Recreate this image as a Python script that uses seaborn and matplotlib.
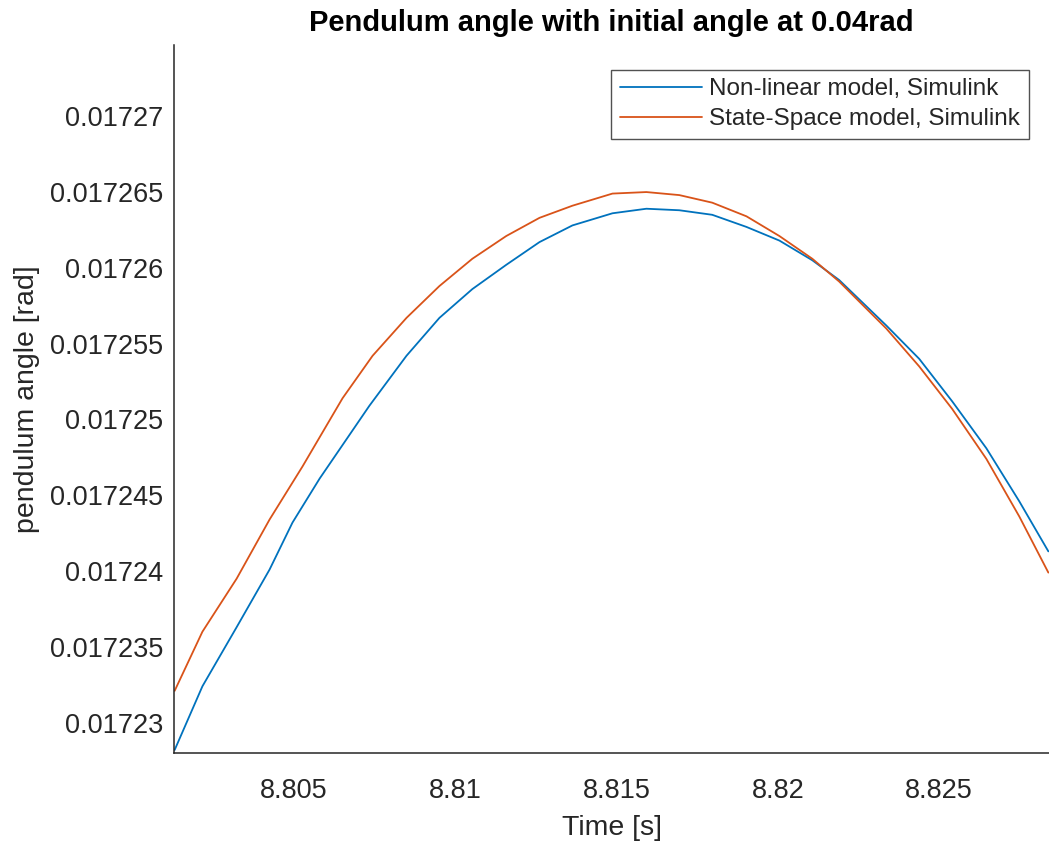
import numpy as np
import pandas as pd
import matplotlib
matplotlib.use("Agg")
import matplotlib.pyplot as plt
import seaborn as sns
from matplotlib.ticker import FuncFormatter

# ---- data ----
t_nonlinear = [8.80132, 8.80218, 8.80324, 8.80426, 8.80497, 8.80581, 8.80735,
               8.80850, 8.80952, 8.81054, 8.81159, 8.81262, 8.81364, 8.81488,
               8.81593, 8.81695, 8.81797, 8.81903, 8.82005, 8.82107, 8.82190,
               8.82336, 8.82438, 8.82540, 8.82646, 8.82748, 8.82838]
y_nonlinear = [0.0172282, 0.0172324, 0.0172363, 0.0172401, 0.0172432, 0.0172461,
               0.0172509, 0.0172542, 0.0172567, 0.0172586, 0.0172602, 0.0172617,
               0.0172628, 0.0172636, 0.0172639, 0.0172638, 0.0172635, 0.0172627,
               0.0172618, 0.0172605, 0.0172592, 0.0172562, 0.0172540, 0.0172512,
               0.0172481, 0.0172446, 0.0172413]

t_statespace = [8.80132, 8.80218, 8.80324, 8.80426, 8.80528, 8.80652, 8.80745,
                8.80850, 8.80952, 8.81054, 8.81159, 8.81262, 8.81364, 8.81488,
                8.81593, 8.81695, 8.81797, 8.81903, 8.82005, 8.82107, 8.82190,
                8.82336, 8.82438, 8.82540, 8.82646, 8.82748, 8.82838]
y_statespace = [0.0172321, 0.0172360, 0.0172395, 0.0172434, 0.0172469, 0.0172514,
                0.0172542, 0.0172567, 0.0172588, 0.0172606, 0.0172621, 0.0172633,
                0.0172641, 0.0172649, 0.0172650, 0.0172648, 0.0172643, 0.0172634,
                0.0172621, 0.0172606, 0.0172591, 0.0172560, 0.0172535, 0.0172507,
                0.0172474, 0.0172436, 0.0172399]

series_names = ["Non-linear model, Simulink", "State-Space model, Simulink"]
x_ticks = [8.805, 8.81, 8.815, 8.82, 8.825]
y_ticks = [0.01723, 0.017235, 0.01724, 0.017245, 0.01725, 0.017255,
           0.01726, 0.017265, 0.01727]
title = "Pendulum angle with initial angle at 0.04rad"
xlabel = "Time [s]"
ylabel = "pendulum angle [rad]"

df = pd.concat([
    pd.DataFrame({"t": t_nonlinear, "y": y_nonlinear, "model": series_names[0]}),
    pd.DataFrame({"t": t_statespace, "y": y_statespace, "model": series_names[1]}),
], ignore_index=True)

# ---- style ----
sns.set_style("white")
plt.rcParams["font.family"] = ["Liberation Sans", "DejaVu Sans"]
dark = "#262626"

fig = plt.figure(figsize=(10.49, 8.44), dpi=100)
ax = fig.add_axes([174 / 1049, 91 / 844, 875 / 1049, 708 / 844])

palette = {series_names[0]: "#0072BD", series_names[1]: "#D95319"}
sns.lineplot(data=df, x="t", y="y", hue="model", palette=palette,
             linewidth=1.3, ax=ax, sort=False, estimator=None)

ax.set_xlim(8.80130, 8.82840)
ax.set_ylim(0.0172280, 0.0172747)
ax.set_xticks(x_ticks)
ax.set_yticks(y_ticks)
ax.xaxis.set_major_formatter(FuncFormatter(lambda v, p: f"{v:.4f}".rstrip("0")))
ax.yaxis.set_major_formatter(FuncFormatter(lambda v, p: f"{v:.6f}".rstrip("0")))

for s in ["top", "right"]:
    ax.spines[s].set_visible(False)
for s in ["left", "bottom"]:
    ax.spines[s].set_color(dark)
    ax.spines[s].set_linewidth(1.1)

ax.tick_params(axis="both", direction="in", length=7, width=1.1,
               colors=dark, labelsize=19.5, pad=8)
ax.tick_params(axis="x", pad=18)

ax.set_xlabel(xlabel, fontsize=20.5, color=dark, labelpad=8)
ax.set_ylabel(ylabel, fontsize=20.5, color=dark, labelpad=7)
ax.set_title(title, fontsize=21, fontweight="bold", color="black", pad=10)

leg = ax.legend(loc="upper right", bbox_to_anchor=(0.977, 0.965),
                borderaxespad=0, fontsize=17.5, frameon=True, fancybox=False,
                edgecolor=dark, handlelength=3.4, handletextpad=0.3,
                borderpad=0.35, labelspacing=0.32)
leg.get_frame().set_linewidth(1.0)
for txt in leg.get_texts():
    txt.set_color(dark)

fig.savefig("out.png", dpi=100)
